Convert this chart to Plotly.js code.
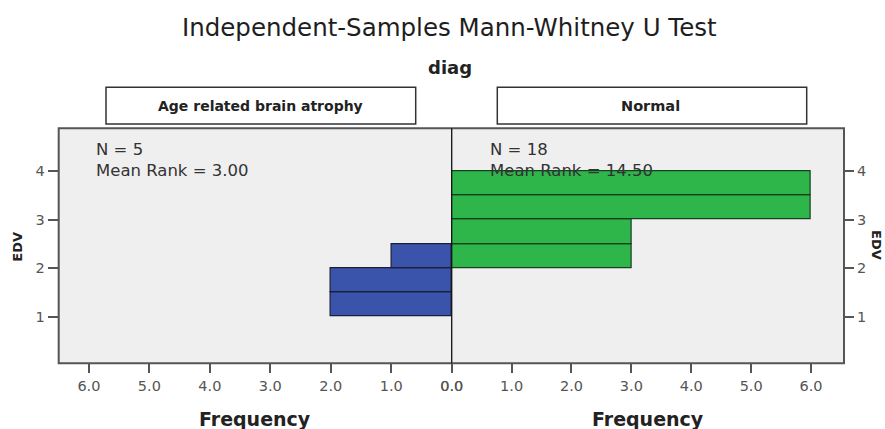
<!DOCTYPE html>
<html>
<head>
<meta charset="utf-8">
<script src="https://cdn.plot.ly/plotly-3.0.1.min.js"></script>
<style>html,body{margin:0;padding:0;background:#fff;}#chart{width:885px;height:429px;}</style>
</head>
<body>
<div id="chart"></div>
<script>
// ---- data ----
const groupNames = ["Age related brain atrophy", "Normal"];
const atrophyEDV = [1.25, 1.75, 2.25];
const atrophyFreq = [2, 2, 1];
const normalEDV = [2.25, 2.75, 3.25, 3.75];
const normalFreq = [3, 3, 6, 6];
const binWidth = 0.5;
const freqTicks = [0, 1, 2, 3, 4, 5, 6];
const edvTicks = [1, 2, 3, 4];
const groupN = [5, 18];
const meanRanks = ["3.00", "14.50"];

// ---- layout geometry (pixels -> paper) ----
const W = 885, H = 429;
const px = v => v / W;
const py = v => 1 - v / H;
const plotL = 58.7, plotMid = 451.7, plotR = 844, plotT = 128.3, plotB = 363.3;

const FONT = "DejaVu Sans, Arial, sans-serif";
const tickFont = {family: FONT, size: 14.5, color: "#555"};

const traces = [
  {
    type: "bar", orientation: "h", name: groupNames[0],
    y: atrophyEDV, x: atrophyFreq, width: atrophyEDV.map(() => binWidth),
    xaxis: "x", yaxis: "y",
    marker: {color: "#3a54ab", line: {color: "#1a1f3a", width: 1.2}},
    hoverinfo: "x+y", showlegend: false
  },
  {
    type: "bar", orientation: "h", name: groupNames[1],
    y: normalEDV, x: normalFreq, width: normalEDV.map(() => binWidth),
    xaxis: "x2", yaxis: "y2",
    marker: {color: "#2eb64b", line: {color: "#17401f", width: 1.2}},
    hoverinfo: "x+y", showlegend: false
  }
];

const yRange = [0.04, 4.88];

const layout = {
  width: W, height: H,
  margin: {l: 0, r: 0, t: 0, b: 0},
  paper_bgcolor: "#ffffff",
  plot_bgcolor: "#efefef",
  bargap: 0,
  showlegend: false,
  title: {
    text: "Independent-Samples Mann-Whitney U Test",
    font: {family: FONT, size: 24.5, color: "#1e1e1e"},
    x: px(449.3), xanchor: "center", y: py(27), yanchor: "middle"
  },
  xaxis: {
    domain: [px(plotL), px(plotMid)], anchor: "y",
    range: [6.5, 0], tickvals: freqTicks, tickformat: ".1f",
    ticks: "outside", ticklen: 9, tickwidth: 1.5, tickcolor: "#555",
    tickfont: tickFont, showgrid: false, zeroline: false, showline: false
  },
  xaxis2: {
    domain: [px(plotMid), px(plotR)], anchor: "y2",
    range: [0, 6.55], tickvals: freqTicks, tickformat: ".1f",
    ticks: "outside", ticklen: 9, tickwidth: 1.5, tickcolor: "#555",
    tickfont: tickFont, showgrid: false, zeroline: false, showline: false
  },
  yaxis: {
    domain: [py(plotB), py(plotT)], anchor: "x", side: "left",
    range: yRange, tickvals: edvTicks,
    ticks: "outside", ticklen: 10, tickwidth: 1.5, tickcolor: "#555",
    tickfont: tickFont, showgrid: false, zeroline: false, showline: false
  },
  yaxis2: {
    domain: [py(plotB), py(plotT)], anchor: "x2", side: "right",
    range: yRange, tickvals: edvTicks,
    ticks: "outside", ticklen: 9, tickwidth: 1.5, tickcolor: "#555",
    tickfont: tickFont, showgrid: false, zeroline: false, showline: false
  },
  shapes: [
    {type: "rect", xref: "paper", yref: "paper", x0: px(plotL), x1: px(plotR), y0: py(plotB), y1: py(plotT),
     line: {color: "#555", width: 2}, fillcolor: "rgba(0,0,0,0)", layer: "above"},
    {type: "line", xref: "paper", yref: "paper", x0: px(plotMid), x1: px(plotMid), y0: py(plotB), y1: py(plotT),
     line: {color: "#111", width: 1.3}, layer: "above"},
    {type: "rect", xref: "paper", yref: "paper", x0: px(106), x1: px(415.7), y0: py(124), y1: py(87.3),
     line: {color: "#333", width: 1.5}, fillcolor: "#fff"},
    {type: "rect", xref: "paper", yref: "paper", x0: px(497.3), x1: px(806.7), y0: py(124), y1: py(87.3),
     line: {color: "#333", width: 1.5}, fillcolor: "#fff"}
  ],
  annotations: [
    {text: "<b>diag</b>", xref: "paper", yref: "paper", x: px(450), y: py(68), xanchor: "center", yanchor: "middle",
     showarrow: false, font: {family: FONT, size: 18, color: "#222"}},
    {text: "<b>" + groupNames[0] + "</b>", xref: "paper", yref: "paper", x: px(260), y: py(105.5), xanchor: "center", yanchor: "middle",
     showarrow: false, font: {family: FONT, size: 14, color: "#222"}},
    {text: "<b>" + groupNames[1] + "</b>", xref: "paper", yref: "paper", x: px(650), y: py(105.5), xanchor: "center", yanchor: "middle",
     showarrow: false, font: {family: FONT, size: 14.5, color: "#222"}},
    {text: "N = " + groupN[0] + "<br>Mean Rank = " + meanRanks[0], xref: "paper", yref: "paper", x: px(94), y: py(160), xanchor: "left", yanchor: "middle",
     align: "left", showarrow: false, font: {family: FONT, size: 16.5, color: "#333"}},
    {text: "N = " + groupN[1] + "<br>Mean Rank = " + meanRanks[1], xref: "paper", yref: "paper", x: px(487.5), y: py(160), xanchor: "left", yanchor: "middle",
     align: "left", showarrow: false, font: {family: FONT, size: 16.5, color: "#333"}},
    {text: "<b>EDV</b>", xref: "paper", yref: "paper", x: px(18), y: py(246.7), xanchor: "center", yanchor: "middle", textangle: -90,
     showarrow: false, font: {family: FONT, size: 13, color: "#222"}},
    {text: "<b>EDV</b>", xref: "paper", yref: "paper", x: px(877), y: py(245), xanchor: "center", yanchor: "middle", textangle: 90,
     showarrow: false, font: {family: FONT, size: 13, color: "#222"}},
    {text: "<b>Frequency</b>", xref: "paper", yref: "paper", x: px(255), y: py(419), xanchor: "center", yanchor: "middle",
     showarrow: false, font: {family: FONT, size: 19, color: "#222"}},
    {text: "<b>Frequency</b>", xref: "paper", yref: "paper", x: px(648), y: py(419), xanchor: "center", yanchor: "middle",
     showarrow: false, font: {family: FONT, size: 19, color: "#222"}}
  ]
};

Plotly.newPlot("chart", traces, layout, {displayModeBar: false, responsive: false});
</script>
</body>
</html>
